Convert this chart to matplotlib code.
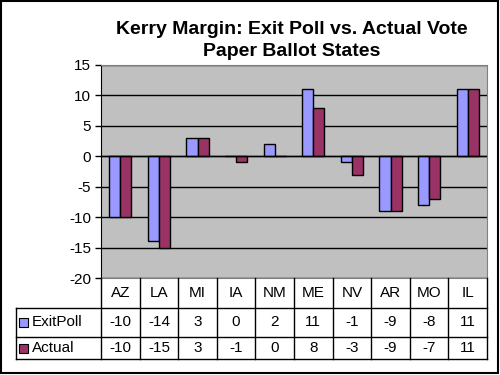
import numpy as np
import matplotlib
matplotlib.use("Agg")
import matplotlib.pyplot as plt
from matplotlib.patches import Rectangle

plt.rcParams['font.family'] = ['Liberation Sans', 'DejaVu Sans']
plt.rcParams['axes.unicode_minus'] = False

states = ["AZ", "LA", "MI", "IA", "NM", "ME", "NV", "AR", "MO", "IL"]
exit_poll = [-10, -14, 3, 0, 2, 11, -1, -9, -8, 11]
actual = [-10, -15, 3, -1, 0, 8, -3, -9, -7, 11]
series_names = ["ExitPoll", "Actual"]
colors = ["#9999FF", "#993366"]

W, H = 500, 375
fig = plt.figure(figsize=(5, 3.75), dpi=100)

# plot area in pixels
px0, px1, py0, py1 = 101, 487, 65, 278
ax = fig.add_axes([px0 / W, 1 - py1 / H, (px1 - px0) / W, (py1 - py0) / H])
ax.set_facecolor("#C0C0C0")

x = np.arange(len(states))
bw = 0.29
for i, (vals, c) in enumerate(zip([exit_poll, actual], colors)):
    ax.bar(x + (i - 0.5) * bw, vals, bw, color=c, edgecolor="black", linewidth=1, zorder=3)

ax.set_xlim(-0.5, len(states) - 0.5)
ax.set_ylim(-20, 15)
ax.set_yticks(np.arange(-20, 16, 5))
ax.yaxis.grid(True, color="black", linewidth=1, zorder=1)
ax.set_axisbelow(True)
ax.axhline(0, color="black", linewidth=1, zorder=4)
ax.set_xticks([])
ax.tick_params(axis="y", length=4, width=1, labelsize=11, pad=3)
for side in ["top", "right", "bottom"]:
    ax.spines[side].set_color("#808080")
ax.spines["left"].set_color("black")

# overlay in pixel coordinates for table and frame
ov = fig.add_axes([0, 0, 1, 1], facecolor="none")
ov.set_xlim(0, W)
ov.set_ylim(H, 0)
ov.axis("off")

ov.add_patch(Rectangle((1, 1), W - 3, H - 3, fill=False, edgecolor="black", linewidth=1.5))

ov.text(292, 30, "Kerry Margin: Exit Poll vs. Actual Vote", ha="center", va="center",
        fontsize=14, fontweight="bold")
ov.text(292, 52, "Paper Ballot States", ha="center", va="center",
        fontsize=14, fontweight="bold")

col_w = (px1 - px0) / len(states)
rows_y = [278, 308, 337, 359]
lw = 1
# horizontal lines
for yy in rows_y[1:]:
    ov.plot([16, px1], [yy, yy], color="black", lw=lw)
# vertical lines
ov.plot([16, 16], [rows_y[1], rows_y[3]], color="black", lw=lw)
for k in range(len(states) + 1):
    xx = px0 + k * col_w
    ov.plot([xx, xx], [rows_y[0], rows_y[3]], color="black", lw=lw)

for k, s in enumerate(states):
    cx = px0 + (k + 0.5) * col_w
    ov.text(cx, (rows_y[0] + rows_y[1]) / 2, s, ha="center", va="center", fontsize=11)
    for r, vals in enumerate([exit_poll, actual]):
        cy = (rows_y[r + 1] + rows_y[r + 2]) / 2
        ov.text(cx, cy, str(vals[k]), ha="center", va="center", fontsize=11)

for r, (name, c) in enumerate(zip(series_names, colors)):
    cy = (rows_y[r + 1] + rows_y[r + 2]) / 2
    ov.add_patch(Rectangle((18.5, cy - 4.5), 9, 9, facecolor=c, edgecolor="black", linewidth=0.8))
    ov.text(32, cy, name, ha="left", va="center", fontsize=11)

fig.savefig("out.png", dpi=100)
